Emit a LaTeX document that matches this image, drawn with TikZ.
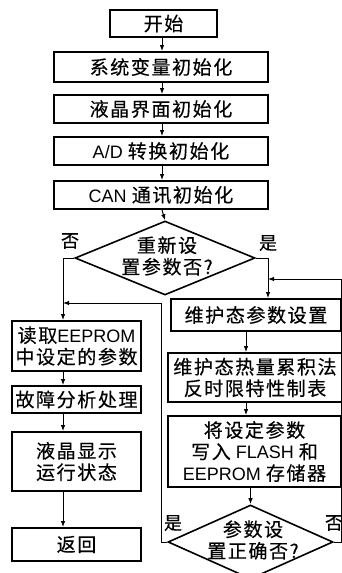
\documentclass[tikz,border=0pt]{standalone}
\usepackage{fontspec}
\setmainfont{Liberation Sans}
\newfontfamily\zhfont[Scale=1.06,LetterSpace=8,FakeBold=0.3]{Noto Sans CJK SC}
\newfontfamily\zhplain[FakeBold=0.3]{Noto Sans CJK SC}
\newcommand\zh[1]{{\zhfont #1}}
\usetikzlibrary{shapes.geometric,arrows.meta}
\tikzset{
  box/.style={draw, line width=1.8pt, rectangle, inner sep=0pt, align=center,
    font=\fontsize{18}{21.5}\selectfont},
  dia/.style={draw, line width=1.6pt, diamond, inner sep=0pt},
  dtext/.style={align=center, inner sep=0pt, font=\fontsize{18}{21.5}\selectfont},
  lbl/.style={inner sep=0pt, font=\fontsize{18}{20}\selectfont\zhplain},
  conn/.style={line width=1pt, -{Latex[length=6pt,width=4.5pt]}},
  line/.style={line width=1pt}
}
\begin{document}
\begin{tikzpicture}[x=1pt,y=-1pt]
\useasboundingbox (0,0) rectangle (342,573);
\coordinate (xm) at (162,0);
\coordinate (xl) at (63,0);
\coordinate (xr) at (268,0);
\coordinate (xr2) at (246,0);
\coordinate (lp) at (161,303);
\coordinate (rp) at (341,279);

\node[box, minimum width=107, minimum height=27] (start) at (163.5,23.5) {\zh{开始}};
\node[box, minimum width=214, minimum height=30] (b1) at (161,67) {\zh{系统变量初始化}};
\node[box, minimum width=214, minimum height=28] (b2) at (161,109) {\zh{液晶界面初始化}};
\node[box, minimum width=214, minimum height=28] (b3) at (161,151) {A/D \zh{转换初始化}};
\node[box, minimum width=214, minimum height=28] (b4) at (161,195) {CAN \zh{通讯初始化}};

\node[dia, minimum width=180, minimum height=74] (d1) at (165,258) {};
\node[dtext] (d1t) at (167,256) {\zh{重新设}\\\zh{置参数否?}};

\node[box, minimum width=129, minimum height=50] (L1) at (76.5,346) {\zh{读取}EEPROM\\\zh{中设定的参数}};
\node[box, minimum width=129, minimum height=27] (L2) at (76.5,399.5) {\zh{故障分析处理}};
\node[box, minimum width=129, minimum height=59] (L3) at (76.5,461.5) {\zh{液晶显示}\\\zh{运行状态}};
\node[box, minimum width=129, minimum height=33] (L4) at (76.5,544.5) {\zh{返回}};

\node[box, minimum width=170, minimum height=32] (R1) at (256,315) {\zh{维护态参数设置}};
\node[box, minimum width=174, minimum height=49] (R2) at (255,377.5) {\zh{维护态热量累积法}\\\zh{反时限特性制表}};
\node[box, minimum width=173, minimum height=71] (R3) at (254.5,451.5) {\zh{将设定参数}\\\zh{写入} FLASH \zh{和}\\EEPROM \zh{存储器}};

\node[dia, minimum width=165, minimum height=74] (d2) at (250.5,542) {};
\node[dtext] (d2t) at (253,540) {\zh{参数设}\\\zh{置正确否?}};

\node[lbl] (no1) at (70,241) {否};
\node[lbl] (yes1) at (268,243) {是};
\node[lbl] (yes2) at (173,523) {是};
\node[lbl] (no2) at (334,523) {否};

\draw[conn] (start.south -| xm) -- (b1.north -| xm);
\draw[conn] (b1.south -| xm) -- (b2.north -| xm);
\draw[conn] (b2.south -| xm) -- (b3.north -| xm);
\draw[conn] (b3.south -| xm) -- (b4.north -| xm);
\draw[conn] (b4.south -| xm) -- (d1.north);

\draw[conn] (d1.west) -| (L1.north -| xl);
\draw[conn] (L1.south -| xl) -- (L2.north -| xl);
\draw[conn] (L2.south -| xl) -- (L3.north -| xl);
\draw[conn] (L3.south -| xl) -- (L4.north -| xl);

\draw[conn] (d1.east) -| (R1.north -| xr);
\draw[conn] (R1.south -| xr2) -- (R2.north -| xr2);
\draw[conn] (R2.south -| xr2) -- (R3.north -| xr2);
\draw[conn] (R3.south -| d2.north) -- (d2.north);

\draw[conn] (d2.west) -| (lp) -- (lp -| xl);
\draw[conn] (d2.east) -| (rp) -- (rp -| xr);
\end{tikzpicture}
\end{document}
